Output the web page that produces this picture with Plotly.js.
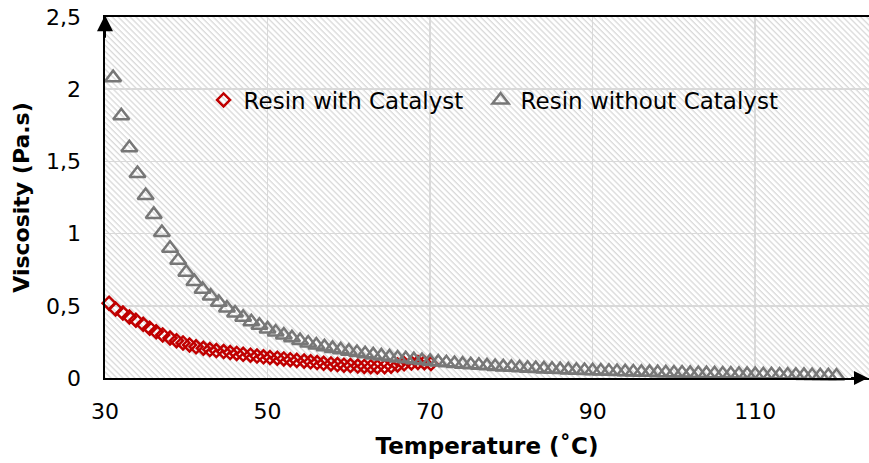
<!DOCTYPE html>
<html>
<head>
<meta charset="utf-8">
<script src="https://cdn.plot.ly/plotly-3.0.1.min.js"></script>
<style>html,body{margin:0;padding:0;background:#fff;}#chart{width:869px;height:463px;}</style>
</head>
<body>
<div id="chart"></div>
<script>
// Resin with Catalyst (temperature °C, viscosity Pa.s)
const tempWith = [30.5,31.3,32.2,33.0,33.8,34.7,35.5,36.3,37.1,38.0,38.8,39.6,40.4,41.2,42.1,42.9,43.7,44.6,45.4,46.2,47.0,47.9,48.7,49.5,50.3,51.2,52.0,52.8,53.6,54.5,55.3,56.1,56.9,57.8,58.6,59.4,60.2,61.1,61.9,62.7,63.5,64.4,65.2,66.0,66.8,67.7,68.5,69.3,70.1];
const viscWith = [0.518,0.478,0.450,0.422,0.400,0.372,0.345,0.320,0.298,0.277,0.258,0.243,0.229,0.216,0.206,0.197,0.190,0.183,0.176,0.170,0.164,0.158,0.152,0.147,0.142,0.137,0.132,0.127,0.122,0.117,0.112,0.107,0.102,0.097,0.093,0.089,0.086,0.083,0.080,0.078,0.077,0.078,0.082,0.090,0.098,0.104,0.108,0.106,0.100];

// Resin without Catalyst
const tempWithout = [31,32,33,34,35,36,37,38,39,40,41,42,43,44,45,46,47,48,49,50,51,52,53,54,55,56,57,58,59,60,61,62,63,64,65,66,67,68,69,70,71,72,73,74,75,76,77,78,79,80,81,82,83,84,85,86,87,88,89,90,91,92,93,94,95,96,97,98,99,100,101,102,103,104,105,106,107,108,109,110,111,112,113,114,115,116,117,118,119,120];
const viscWithout = [2.08,1.816,1.595,1.416,1.264,1.133,1.008,0.898,0.815,0.732,0.668,0.615,0.568,0.525,0.485,0.450,0.420,0.390,0.365,0.340,0.318,0.297,0.278,0.259,0.242,0.228,0.216,0.205,0.195,0.186,0.177,0.168,0.160,0.153,0.146,0.139,0.133,0.127,0.121,0.115,0.110,0.105,0.100,0.096,0.092,0.088,0.084,0.080,0.077,0.074,0.071,0.068,0.065,0.063,0.060,0.058,0.056,0.054,0.052,0.050,0.048,0.046,0.045,0.043,0.042,0.040,0.039,0.037,0.036,0.035,0.034,0.032,0.031,0.030,0.029,0.028,0.027,0.026,0.025,0.024,0.023,0.022,0.021,0.020,0.019,0.018,0.017,0.016,0.015,0.014];

const seriesNames = ["Resin with Catalyst", "Resin without Catalyst"];
const xTickVals = [30,50,70,90,110];
const yTickVals = [0,0.5,1,1.5,2,2.5];
const yTickText = ["0","0,5","1","1,5","2","2,5"];
const xTitle = "Temperature (\u02DAC)";
const yTitle = "Viscosity (Pa.s)";

const FONT = "DejaVu Sans, Verdana, sans-serif";

const hatch = "<svg xmlns='http://www.w3.org/2000/svg' width='764' height='361'><defs><pattern id='p' width='4.2' height='4.2' patternUnits='userSpaceOnUse' patternTransform='rotate(-45)'><line x1='1' y1='-1' x2='1' y2='6' stroke='#d9d9d9' stroke-width='1.3'/></pattern></defs><rect width='100%' height='100%' fill='url(#p)'/></svg>";

const traces = [
  {
    x: tempWith, y: viscWith, name: seriesNames[0], type: "scatter", mode: "markers",
    cliponaxis: false, legendwidth: 232,
    marker: {symbol: "diamond-open", size: 10, color: "#C00000", line: {color: "#C00000", width: 2.5}}
  },
  {
    x: tempWithout, y: viscWithout, name: seriesNames[1], type: "scatter", mode: "markers",
    cliponaxis: false, legendwidth: 290,
    marker: {symbol: "triangle-up-open", size: 14, color: "#777777", line: {color: "#777777", width: 2.5}}
  }
];

const layout = {
  width: 869, height: 463,
  margin: {l: 105, r: 0, t: 17, b: 85},
  paper_bgcolor: "#ffffff",
  plot_bgcolor: "rgba(0,0,0,0)",
  separators: ",.",
  font: {family: FONT, size: 22, color: "#000"},
  showlegend: true,
  legend: {
    orientation: "h", x: 0.129, y: 0.77, xanchor: "left", yanchor: "middle",
    bgcolor: "rgba(0,0,0,0)", font: {family: FONT, size: 23, color: "#000"},
    itemwidth: 30, tracegroupgap: 0
  },
  xaxis: {
    range: [30, 124], tickvals: xTickVals, ticktext: xTickVals.map(String),
    showgrid: true, gridcolor: "#d9d9d9", gridwidth: 1.5,
    zeroline: false, showline: true, linecolor: "#000", linewidth: 2, mirror: true,
    ticks: "outside", ticklen: 13, tickcolor: "rgba(0,0,0,0)",
    tickfont: {family: FONT, size: 22, color: "#000"},
    title: {text: xTitle, font: {family: FONT, size: 23, color: "#000", weight: "bold"}, standoff: 14}
  },
  yaxis: {
    range: [0, 2.5], tickvals: yTickVals, ticktext: yTickText,
    showgrid: true, gridcolor: "#d9d9d9", gridwidth: 1.5,
    zeroline: false, showline: true, linecolor: "#000", linewidth: 2.5,
    ticks: "outside", ticklen: 17, tickcolor: "rgba(0,0,0,0)",
    tickfont: {family: FONT, size: 22, color: "#000"},
    title: {text: yTitle, font: {family: FONT, size: 22, color: "#000", weight: "bold"}, standoff: 11}
  },
  images: [{
    source: "data:image/svg+xml;charset=utf-8," + encodeURIComponent(hatch),
    xref: "paper", yref: "paper", x: 0, y: 1, sizex: 1, sizey: 1,
    sizing: "stretch", xanchor: "left", yanchor: "top", layer: "below"
  }],
  annotations: [
    {xref: "paper", yref: "paper", x: 0, y: 1.005, ax: 0, ay: 24, axref: "pixel", ayref: "pixel",
     text: "", showarrow: true, arrowhead: 2, arrowsize: 1.6, arrowwidth: 2, arrowcolor: "#000"},
    {xref: "paper", yref: "paper", x: 1.006, y: 0, ax: -24, ay: 0, axref: "pixel", ayref: "pixel",
     text: "", showarrow: true, arrowhead: 2, arrowsize: 1.4, arrowwidth: 2, arrowcolor: "#000"}
  ]
};

Plotly.newPlot("chart", traces, layout, {displayModeBar: false, staticPlot: true});
</script>
</body>
</html>
